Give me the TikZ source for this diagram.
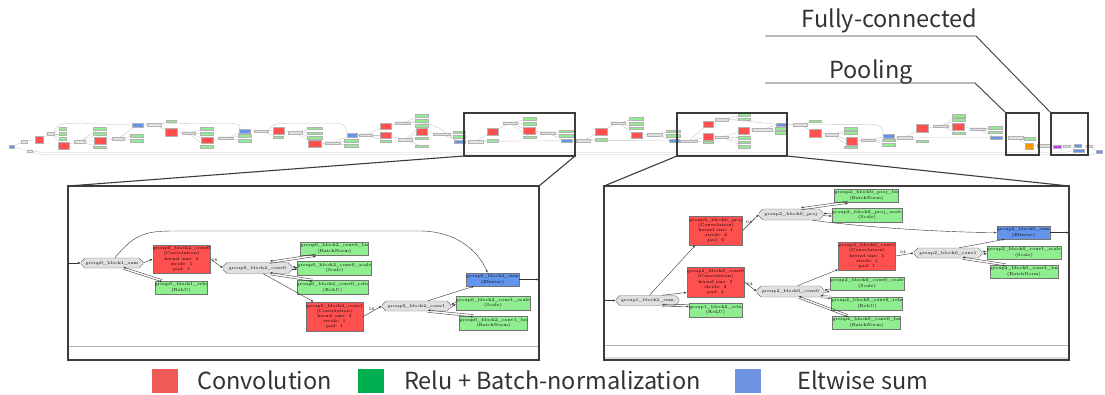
\documentclass[tikz,border=0pt]{standalone}
\usepackage{fontspec}
\newfontfamily\lblfont{Noto Sans CJK JP}
\usetikzlibrary{shapes.misc,arrows.meta,calc}

\definecolor{convred}{HTML}{FF5050}
\definecolor{bnGreen}{HTML}{90EE90}
\definecolor{sumBlue}{HTML}{6495ED}
\definecolor{blobGray}{HTML}{E0E0E0}
\definecolor{poolOrange}{HTML}{FF9900}
\definecolor{fcMagenta}{HTML}{CC33FF}
\definecolor{legRed}{HTML}{EE5A55}
\definecolor{legGreen}{HTML}{00B050}
\definecolor{legBlue}{HTML}{6D93E2}
\definecolor{frameGray}{HTML}{3C3C3C}
\definecolor{textGray}{HTML}{333333}

% tiny overview nodes
\newcommand\SR[4]{\node[sbox,fill=convred,minimum width=#3pt,minimum height=#4pt] (#1) at (#2) {};}
\newcommand\SG[3]{\node[sbox,fill=bnGreen,minimum width=#3pt] (#1) at (#2) {};}
\newcommand\SB[4]{\node[sbox,fill=sumBlue,minimum width=#3pt,minimum height=#4pt] (#1) at (#2) {};}
\newcommand\SO[3]{\node[soct,minimum width=#3pt] (#1) at (#2) {};}
\newcommand\E[2]{\draw[se] (#1) -- (#2);}
% in-place layer: a pair of opposite arrows
\newcommand\ipair[2]{\draw[pe] ([yshift=-1.1pt]#1) -- ([yshift=-1.1pt]#2);
  \draw[pe] ([yshift=1.1pt]#2) -- ([yshift=1.1pt]#1);}

\begin{document}
\begin{tikzpicture}[x=1pt,y=-1pt,
  sbox/.style={rectangle,draw=black!30,line width=0.2pt,inner sep=0pt,minimum height=2.5pt},
  soct/.style={chamfered rectangle,chamfered rectangle xsep=1pt,chamfered rectangle ysep=0.4pt,
    draw=black!30,fill=blobGray,line width=0.2pt,inner sep=0pt,minimum height=2.6pt},
  se/.style={draw=black!22,line width=0.35pt},
  pbox/.style={rectangle,draw=black!55,line width=0.45pt,inner sep=0pt,align=center,
    font=\fontsize{4.3}{5.1}\selectfont},
  pconv/.style={pbox,fill=convred},
  pgrn/.style={pbox,fill=bnGreen},
  pblu/.style={pbox,fill=sumBlue},
  poct/.style={chamfered rectangle,chamfered rectangle xsep=5pt,chamfered rectangle ysep=2pt,
    draw=black!55,fill=blobGray,line width=0.45pt,inner sep=0pt,
    font=\fontsize{4.3}{5.1}\selectfont},
  pe/.style={draw=black!80,line width=0.4pt,-{Latex[length=2.6pt,width=2pt]}},
  elab/.style={font=\fontsize{4.3}{5}\selectfont,inner sep=0.6pt},
  frame/.style={draw=frameGray,line width=1.3pt},
  link/.style={draw=frameGray,line width=1.1pt},
  callout/.style={draw=frameGray,line width=0.9pt},
  lbl/.style={font=\lblfont\fontsize{23.5}{26}\selectfont,text=textGray,inner sep=0pt},
  key/.style={rectangle,minimum width=26pt,minimum height=24pt,inner sep=0pt},
]
\fill[white] (0,0) rectangle (1105,394);
\useasboundingbox (0,0) rectangle (1105,394);

%% ===================== network overview strip =====================
% stem
\SB{data}{12,146.5}{5}{3.5}
\SO{dblob}{24,141.3}{6}
\SO{lblob}{30,151}{5}
\SR{sc}{38.8,139.3}{7.7}{6.7}
\SO{so}{50.3,133.8}{7.3}
\SG{sg1}{62.5,128.8}{6.4}
\SG{sg2}{62.5,133.8}{6.4}
\SG{sg3}{62.5,138.8}{6.4}
\E{data}{dblob}\E{data}{lblob}\E{dblob}{sc}\E{sc}{so}
\E{so}{sg1}\E{so}{sg2}\E{so}{sg3}

% block a
\SR{ac0}{63.5,145.3}{11.6}{7.3}
\SO{ao0}{79.5,141.3}{11}
\SG{ag1}{99.5,128.8}{13}
\SG{ag2}{99.5,133.8}{13}
\SR{ac1}{100.2,140.7}{11.7}{6.7}
\SG{ag3}{99.3,147}{13.3}
\SO{ao1}{117.8,138.8}{12.3}
\SB{asum}{137.2,125}{11}{3.4}
\SG{ag4}{136.7,135.5}{13.3}
\SG{ag5}{136.7,140.5}{13.3}
\E{so}{ac0}\E{ac0}{ao0}\E{ao0}{ag1}\E{ao0}{ag2}\E{ao0}{ag3}\E{ao0}{ac1}
\E{ac1}{ao1}\E{ao1}{ag4}\E{ao1}{ag5}\E{ao1}{asum}
\draw[se] (so.north east) .. controls (57,123.3) and (62,123.3) .. (75,123.3) -- (asum.west);

% block b
\SO{bin}{153.7,124.3}{14}
\SG{br}{170.8,121.3}{10.3}
\SR{bc0}{170.8,132}{11.7}{7.3}
\SO{bo0}{188.3,133}{13.3}
\SG{bg1}{206.7,128.8}{13.3}
\SG{bg2}{206.7,133.8}{13.3}
\SR{bc1}{207.2,140}{12.3}{6.7}
\SG{bg3}{206.7,146.7}{13.3}
\SO{bo1}{225.8,138}{15}
\SB{bsum}{244.7,131}{10.7}{3.4}
\SG{bg4}{244.5,135.5}{12.4}
\SG{bg5}{244.5,140.5}{12.4}
\E{asum}{bin}\E{bin}{br}\E{bin}{bc0}\E{bc0}{bo0}\E{bo0}{bg1}\E{bo0}{bg2}\E{bo0}{bg3}
\E{bo0}{bc1}\E{bc1}{bo1}\E{bo1}{bg4}\E{bo1}{bg5}\E{bo1}{bsum}
\draw[se] (bin.east) .. controls (175,123.3) and (185,123.3) .. (200,123.3) -- (232,123.3)
  .. controls (238,123.3) and (242,126) .. (bsum.north west);

% block c
\SO{cin}{261.2,131.2}{14.3}
\SR{cc0}{278.3,130.3}{11.3}{7.3}
\SG{cr}{278.3,137}{10}
\SO{co0}{295,132.8}{13.3}
\SG{cg1}{314.2,128}{15}
\SG{cg2}{314.2,133}{15}
\SG{cg3}{314.2,137.8}{15}
\SR{cc1}{314.5,143.7}{12.3}{7.3}
\SO{co1}{332.5,143}{15}
\SB{csum}{352,135}{10.6}{3.4}
\SG{cg4}{351.3,140.5}{14}
\SG{cg5}{351.3,145.5}{14}
\E{bsum}{cin}\E{cin}{cc0}\E{cin}{cr}\E{cc0}{co0}\E{co0}{cg1}\E{co0}{cg2}\E{co0}{cg3}
\E{co0}{cc1}\E{cc1}{co1}\E{co1}{cg4}\E{co1}{cg5}\E{co1}{csum}
\draw[se] (cin.north east) .. controls (272,123.3) and (278,123.3) .. (290,123.3) -- (338,123.3)
  .. controls (344,123.3) and (347,128) .. (csum.north west);

% block d (projection)
\SO{din}{366,135}{13}
\SR{dp}{385.5,126}{11}{6.7}
\SR{dc0}{385.5,135}{11}{6.7}
\SG{dr}{385.5,141.3}{11}
\SO{dop}{402.5,123}{15}
\SO{do0}{405,139.7}{13.7}
\SG{dgp1}{421.7,115.5}{13.3}
\SG{dgp2}{421.7,120.5}{13.3}
\SG{dg1}{421.7,125.5}{13.3}
\SR{dc1}{421.7,131.7}{11.3}{6.7}
\SG{dg2}{421.7,138}{13.3}
\SG{dg3}{421.7,146.3}{13.3}
\SO{do1}{441.7,134.2}{16.7}
\SG{dg4}{458.8,132.2}{12.3}
\SG{dg5}{458.8,136.7}{12.3}
\SB{dsum}{459.7,141.7}{10.7}{3.3}
\E{csum}{din}\E{din}{dp}\E{din}{dc0}\E{din}{dr}\E{dp}{dop}\E{dc0}{do0}
\E{dop}{dgp1}\E{dop}{dgp2}\E{do0}{dg1}\E{do0}{dg2}\E{do0}{dg3}\E{do0}{dc1}
\E{dc1}{do1}\E{do1}{dg4}\E{do1}{dg5}\E{do1}{dsum}
\draw[se] (dop.east) .. controls (430,122) and (440,126) .. (dsum.north west);

% block e
\SO{ein}{475.8,141.3}{15}
\SR{ec0}{492.8,131.7}{11}{6.7}
\SG{er}{492.8,140.5}{11}
\SO{eo0}{509.7,123}{14}
\SG{eg1}{529.3,118.8}{13.3}
\SG{eg2}{529.3,123.7}{13.3}
\SR{ec1}{529.2,130.7}{11.7}{6.7}
\SG{eg3}{529.3,137.2}{13.3}
\SO{eo1}{547.5,133}{15}
\SG{eg4}{566.3,131.3}{14}
\SG{eg5}{566.3,135.5}{14}
\SB{esum}{566.3,140.8}{10.7}{3}
\E{dsum}{ein}\E{ein}{ec0}\E{ein}{er}\E{ec0}{eo0}\E{eo0}{eg1}\E{eo0}{eg2}\E{eo0}{eg3}
\E{eo0}{ec1}\E{ec1}{eo1}\E{eo1}{eg4}\E{eo1}{eg5}\E{eo1}{esum}\E{ein}{esum}

% block f
\SO{fin}{583,140.5}{14}
\SR{fc0}{600.8,131.3}{11.7}{7.3}
\SG{fr}{600.8,139.7}{11.7}
\SO{fo0}{617.8,123}{14.3}
\SG{fg1}{636,118.7}{13.3}
\SG{fg2}{636,123.5}{13.3}
\SG{fg3}{636,128}{13.3}
\SR{fc1}{636.5,135}{11.7}{6.7}
\SO{fo1}{654.5,134.5}{14.3}
\SG{fg4}{673,131.2}{14}
\SG{fg5}{673,135.5}{14}
\SB{fsum}{674.3,140.8}{10}{3}
\E{esum}{fin}\E{fin}{fc0}\E{fin}{fr}\E{fc0}{fo0}\E{fo0}{fg1}\E{fo0}{fg2}\E{fo0}{fg3}
\E{fo0}{fc1}\E{fc1}{fo1}\E{fo1}{fg4}\E{fo1}{fg5}\E{fo1}{fsum}\E{fin}{fsum}

% block g (projection)
\SO{gin}{688.3,141.2}{16.7}
\SR{gp}{708,124}{10.7}{6.7}
\SR{gc0}{708,136.7}{10.7}{6.7}
\SG{gr}{708,142}{10.7}
\SO{gop}{722,119.5}{13}
\SO{go0}{722,137.2}{13}
\SG{ggp1}{743.8,114.5}{12.3}
\SG{ggp2}{743.8,119}{12.3}
\SR{gc1}{744,130.5}{11}{7.5}
\SG{gg1}{744,137.5}{12}
\SG{gg2}{744,142}{12}
\SG{gg3}{744,146.5}{12}
\SO{go1}{761.7,129.3}{20}
\SB{gsum}{780.7,124.2}{10}{3}
\SG{gg4}{780.8,128.8}{11.7}
\SG{gg5}{780.8,132.8}{11.7}
\E{fsum}{gin}\E{gin}{gp}\E{gin}{gc0}\E{gin}{gr}\E{gp}{gop}\E{gc0}{go0}
\E{gop}{ggp1}\E{gop}{ggp2}\E{go0}{gg1}\E{go0}{gg2}\E{go0}{gg3}\E{go0}{gc1}
\E{gc1}{go1}\E{go1}{gg4}\E{go1}{gg5}\E{go1}{gsum}
\draw[se] (gop.east) .. controls (745,121) and (765,123) .. (gsum.west);

% block h
\SO{hin}{800,124.5}{13.3}
\SG{hr}{815,121.3}{11.3}
\SR{hc0}{815,132.8}{11.3}{7.7}
\SO{ho0}{831.7,134.5}{13.3}
\SG{hg1}{850.3,128.8}{12.7}
\SG{hg2}{850.3,132.8}{12.7}
\SR{hc1}{851.2,141.2}{11}{7.7}
\SG{hg3}{850.3,147}{12.7}
\SO{ho1}{867.8,140}{14.3}
\SB{hsum}{888.3,136}{11.3}{3.4}
\SG{hg4}{888.3,140.3}{13.3}
\SG{hg5}{888.3,144.7}{13.3}
\E{gsum}{hin}\E{hin}{hr}\E{hin}{hc0}\E{hc0}{ho0}\E{ho0}{hg1}\E{ho0}{hg2}\E{ho0}{hg3}
\E{ho0}{hc1}\E{hc1}{ho1}\E{ho1}{hg4}\E{ho1}{hg5}\E{ho1}{hsum}
\draw[se] (hin.east) -- (872,124.3) .. controls (880,124.3) and (885,129) .. (hsum.north west);

% block i
\SO{iin}{904.2,137.8}{15}
\SR{ic0}{922.2,128.3}{12.3}{8}
\SG{ir}{922.2,141.3}{12.3}
\SO{io0}{940.8,126.2}{15}
\SG{ig1}{958.3,115.5}{13.3}
\SG{ig2}{958.3,119.7}{13.3}
\SR{ic1}{958.3,126.7}{12}{6.7}
\SG{ig3}{958.3,133}{13.3}
\SO{io1}{977.5,129}{15}
\SG{ig4}{995.3,127.8}{14}
\SG{ig5}{995.3,132.2}{14}
\SB{isum}{995.8,137.7}{11.7}{3.3}
\E{hsum}{iin}\E{iin}{ic0}\E{iin}{ir}\E{ic0}{io0}\E{io0}{ig1}\E{io0}{ig2}\E{io0}{ig3}
\E{io0}{ic1}\E{ic1}{io1}\E{io1}{ig4}\E{io1}{ig5}\E{io1}{isum}\E{iin}{isum}

% pooling, classifier, loss
\SO{tin}{1015.8,137.8}{15}
\SG{tr}{1029.5,138.8}{11}
\node[sbox,fill=poolOrange,minimum width=8.3pt,minimum height=6.3pt] (tpool) at (1029.2,145.8) {};
\SO{top}{1043.3,145.5}{13.3}
\node[sbox,fill=fcMagenta,minimum width=7.7pt,minimum height=2.7pt] (tfc) at (1057.2,146.3) {};
\SO{tof}{1066.5,146.2}{7}
\SB{tb}{1077.5,145.8}{7}{3}
\SB{tacc}{1078.7,150.7}{11.3}{3.3}
\SO{tob}{1089,146.2}{6}
\SB{tloss}{1098.7,151.7}{6}{3.3}
\E{isum}{tin}\E{tin}{tr}\E{tin}{tpool}\E{tpool}{top}\E{top}{tfc}\E{tfc}{tof}
\E{tof}{tb}\E{tof}{tacc}\E{tb}{tob}\E{tob}{tloss}
\draw[se] (lblob.east) .. controls (38,152.3) and (45,152.3) .. (55,152.3) -- (1066,152.3) -- (tacc.west);
\draw[se] (lblob.south east) .. controls (38,154.8) and (45,154.8) .. (55,154.8) -- (1088,154.8)
  .. controls (1093,154.8) and (1095,154) .. (tloss.south west);

%% ===================== highlight frames and callouts =====================
\coordinate (z1tl) at (464,113); \coordinate (z1br) at (575,156);
\coordinate (z2tl) at (677,113); \coordinate (z2br) at (787,156);
\coordinate (poolTL) at (1006,113); \coordinate (poolBR) at (1039,155);
\coordinate (fcTL) at (1051,113); \coordinate (fcBR) at (1088,155);
\draw[frame] (z1tl) rectangle (z1br);
\draw[frame] (z2tl) rectangle (z2br);
\draw[frame] (poolTL) rectangle (poolBR);
\draw[frame] (fcTL) rectangle (fcBR);

\node[lbl,anchor=base] (tFC) at (889.5,27) {Fully-connected};
\node[lbl,anchor=base] (tPool) at (871,78) {Pooling};
\draw[callout] (765,36) -- (976,36) -- (fcTL);
\draw[callout] (765,83) -- (975,83) -- (poolTL);

% detail panels
\coordinate (p1tl) at (68,186); \coordinate (p1br) at (539,360);
\coordinate (p2tl) at (604,186); \coordinate (p2br) at (1069,360);
\draw[link] (z1tl |- z1br) -- (p1tl);
\draw[link] (z1br) -- (p1br |- p1tl);
\draw[link] (z2tl |- z2br) -- (p2tl);
\draw[link] (z2br) -- (p2br |- p2tl);
\draw[black!30,line width=0.8pt] (68,346) -- (539,346);
\draw[black!30,line width=0.8pt] (604,345) -- (1069,345);
\fill[black!12] (604,357) rectangle (1069,360);
\draw[frame] (p1tl) rectangle (p1br);
\draw[frame] (p2tl) rectangle (p2br);

%% ===================== left panel: group0_block2 =====================
\node[poct,minimum width=62pt,minimum height=10pt] (Lin) at (112,263) {group0\_block1\_sum};
\node[pconv,minimum width=49pt,minimum height=28pt] (Lc0) at (181.5,259)
  {group0\_block2\_conv0\\(Convolution)\\kernel size: 3\\stride: 1\\pad: 1};
\node[pgrn,minimum width=44pt,minimum height=13pt] (Lrelu) at (181,287.5) {group0\_block1\_relu\\(ReLU)};
\node[poct,minimum width=69pt,minimum height=11pt] (Lo0) at (257.5,268) {group0\_block2\_conv0};
\node[pgrn,minimum width=57pt,minimum height=13pt] (Lbn0) at (334.5,248.5) {group0\_block2\_conv0\_bn\\(BatchNorm)};
\node[pgrn,minimum width=57pt,minimum height=14pt] (Lsc0) at (334.5,268) {group0\_block2\_conv0\_scale\\(Scale)};
\node[pgrn,minimum width=55pt,minimum height=14pt] (Lre0) at (332.5,287.5) {group0\_block2\_conv0\_relu\\(ReLU)};
\node[pconv,minimum width=49pt,minimum height=29pt] (Lc1) at (334.5,316.5)
  {group0\_block2\_conv1\\(Convolution)\\kernel size: 3\\stride: 1\\pad: 1};
\node[poct,minimum width=69pt,minimum height=10pt] (Lo1) at (416.5,306) {group0\_block2\_conv1};
\node[pblu,minimum width=47pt,minimum height=13pt] (Lsum) at (492.5,279.5) {group0\_block2\_sum\\(Eltwise)};
\node[pgrn,minimum width=60pt,minimum height=14pt] (Lsc1) at (493,303) {group0\_block2\_conv1\_scale\\(Scale)};
\node[pgrn,minimum width=57pt,minimum height=14pt] (Lbn1) at (493.5,323) {group0\_block2\_conv1\_bn\\(BatchNorm)};

\coordinate (Lentry) at (68,263);
\coordinate (Lexit) at (539,279.5);
\draw[pe] (Lentry) -- (Lin.west);
\draw[pe] (Lin.east) -- (Lc0.west);
\ipair{Lin.-25}{Lrelu.160}
\draw[pe] (Lc0.east) -- node[elab,above,pos=0.35] {16} (Lo0.west);
\ipair{Lo0.25}{Lbn0.200}
\ipair{Lo0.east}{Lsc0.west}
\ipair{Lo0.-25}{Lre0.160}
\draw[pe] (Lo0.-45) -- (Lc1.145);
\draw[pe] (Lc1.east) -- node[elab,above,pos=0.45] {16} (Lo1.west);
\draw[pe] (Lo1.25) -- (Lsum.200);
\ipair{Lo1.east}{Lsc1.west}
\ipair{Lo1.-25}{Lbn1.160}
\draw[pe] (Lin.60) .. controls (135,232) and (150,231) .. (175,231) -- (420,231)
  .. controls (455,231) and (478,250) .. ([xshift=-5pt]Lsum.north);
\draw[pe] (Lsum.east) -- (Lexit);

%% ===================== right panel: group2_block0 =====================
\node[poct,minimum width=63pt,minimum height=10pt] (Rin) at (647.5,300.5) {group1\_block2\_sum};
\node[pconv,minimum width=44pt,minimum height=29pt] (Rproj) at (716,230.5)
  {group2\_block0\_proj\\(Convolution)\\kernel size: 1\\stride: 2\\pad: 0};
\node[pconv,minimum width=47pt,minimum height=30pt] (Rc0) at (715.5,282)
  {group2\_block0\_conv0\\(Convolution)\\kernel size: 3\\stride: 2\\pad: 1};
\node[pgrn,minimum width=43pt,minimum height=14pt] (Rrelu) at (715.5,310) {group1\_block2\_relu\\(ReLU)};
\node[poct,minimum width=64pt,minimum height=11pt] (Rop) at (791,214.5) {group2\_block0\_proj};
\node[pgrn,minimum width=51pt,minimum height=13pt] (Rbnp) at (866.5,195.5) {group2\_block0\_proj\_bn\\(BatchNorm)};
\node[pgrn,minimum width=56pt,minimum height=14pt] (Rscp) at (867,215) {group2\_block0\_proj\_scale\\(Scale)};
\node[poct,minimum width=67pt,minimum height=11pt] (Ro0) at (790.5,291.5) {group2\_block0\_conv0};
\node[pconv,minimum width=48pt,minimum height=28pt] (Rc1) at (867,256)
  {group2\_block0\_conv1\\(Convolution)\\kernel size: 3\\stride: 1\\pad: 1};
\node[pgrn,minimum width=60pt,minimum height=13pt] (Rsc0) at (867,283.5) {group2\_block0\_conv0\_scale\\(Scale)};
\node[pgrn,minimum width=58pt,minimum height=13pt] (Rre0) at (867,303.5) {group2\_block0\_conv0\_relu\\(ReLU)};
\node[pgrn,minimum width=55pt,minimum height=13pt] (Rbn0) at (866.5,322.5) {group2\_block0\_conv0\_bn\\(BatchNorm)};
\node[poct,minimum width=68pt,minimum height=10pt] (Ro1) at (948,253) {group2\_block0\_conv1};
\node[pblu,minimum width=45pt,minimum height=13pt] (Rsum) at (1023.5,232.5) {group2\_block0\_sum\\(Eltwise)};
\node[pgrn,minimum width=60pt,minimum height=13pt] (Rsc1) at (1024,252.5) {group2\_block0\_conv1\_scale\\(Scale)};
\node[pgrn,minimum width=56pt,minimum height=13pt] (Rbn1) at (1024,271.5) {group2\_block0\_conv1\_bn\\(BatchNorm)};

\coordinate (Rentry) at (604,300.5);
\coordinate (Rexit) at (1069,232.5);
\draw[pe] (Rentry) -- (Rin.west);
\draw[pe] (Rin.70) -- ([xshift=6pt]Rproj.south west);
\draw[pe] (Rin.20) -- (Rc0.200);
\ipair{Rin.-20}{Rrelu.170}
\draw[pe] (Rproj.east) -- node[elab,above,pos=0.4] {64} (Rop.west);
\ipair{Rop.30}{Rbnp.200}
\ipair{Rop.east}{Rscp.west}
\draw[pe] (Rop.-15) .. controls (870,228) and (950,232.5) .. (Rsum.west);
\draw[pe] (Rc0.east) -- node[elab,above,pos=0.45] {64} (Ro0.west);
\draw[pe] (Ro0.40) -- (Rc1.205);
\ipair{Ro0.east}{Rsc0.190}
\ipair{Ro0.-10}{Rre0.170}
\ipair{Ro0.-35}{Rbn0.160}
\draw[pe] (Rc1.east) -- node[elab,above,pos=0.4] {64} (Ro1.west);
\draw[pe] (Ro1.25) -- (Rsum.200);
\ipair{Ro1.east}{Rsc1.west}
\ipair{Ro1.-20}{Rbn1.160}
\draw[pe] (Rsum.east) -- (Rexit);

%% ===================== legend =====================
\node[key,fill=legRed] (kConv) at (165,380.5) {};
\node[lbl,anchor=base west] (tConv) at (197,389) {Convolution};
\node[key,fill=legGreen] (kBn) at (371,380.5) {};
\node[lbl,anchor=base west] (tBn) at (404,389) {Relu + Batch-normalization};
\node[key,fill=legBlue] (kSum) at (748,380.5) {};
\node[lbl,anchor=base west] (tSum) at (797,389) {Eltwise sum};
\end{tikzpicture}
\end{document}
